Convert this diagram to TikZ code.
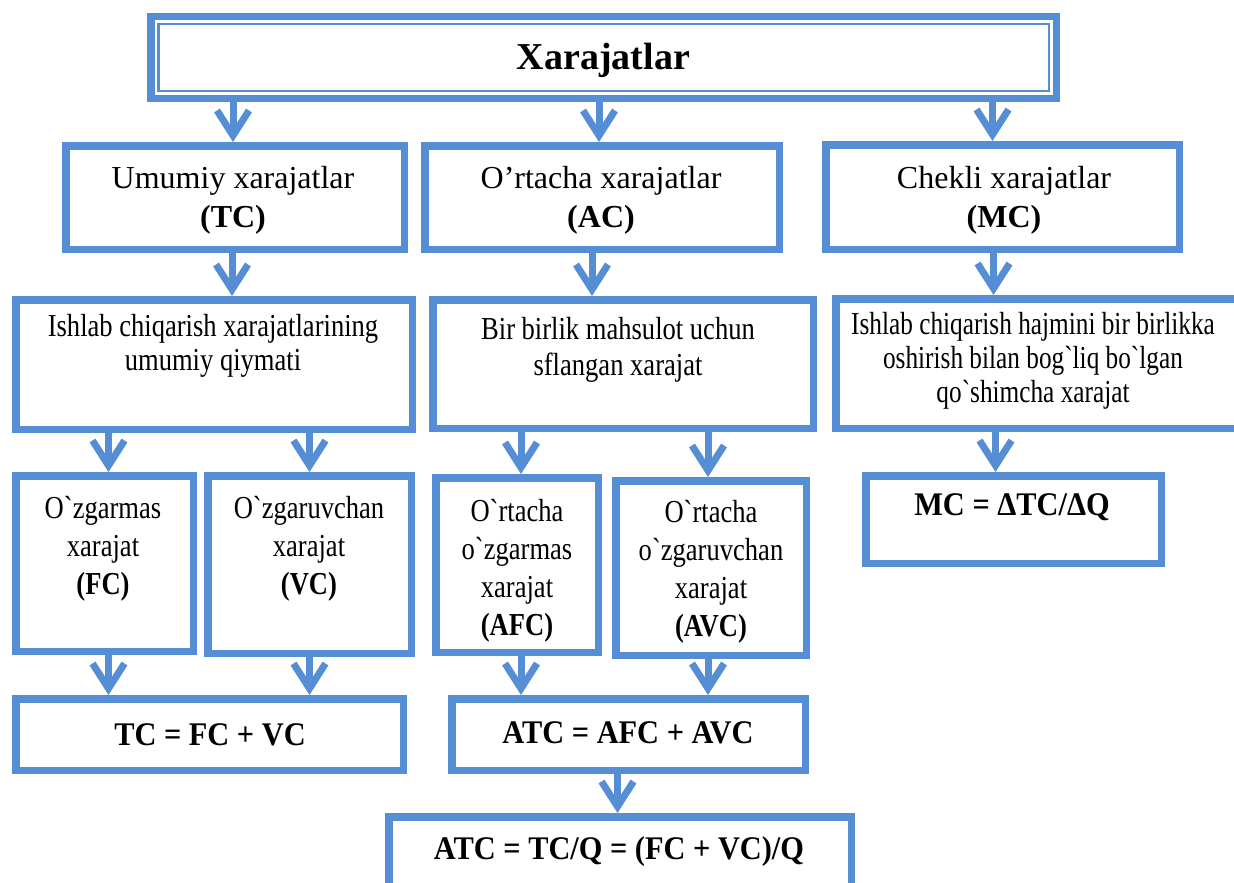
\documentclass[tikz,border=0pt]{standalone}
\usepackage{fontspec}
\setmainfont{Liberation Serif}
\newfontfamily\cnd[FakeStretch=0.83]{Liberation Serif}
\newfontfamily\cndr[FakeStretch=0.79]{Liberation Serif}
\newfontfamily\bcnd[FakeStretch=0.92]{Liberation Serif}
\usetikzlibrary{arrows.meta}
\definecolor{bl}{RGB}{85,142,213}
\newcommand\mkbox[5]{%
  \pgfmathsetmacro\mbw{#4-#2-7.5}\pgfmathsetmacro\mbh{#5-#3-7.5}%
  \pgfmathsetmacro\mbx{(#2+#4)/2}\pgfmathsetmacro\mby{(#3+#5)/2}%
  \node[box, minimum width=\mbw pt, minimum height=\mbh pt] (#1) at (\mbx,\mby) {};}
\begin{document}
\begin{tikzpicture}[x=1pt,y=-1pt,
  box/.style={draw=bl, line width=7.5pt, rectangle, inner sep=0pt},
  arr/.style={draw=bl, line width=7pt, -{Straight Barb[length=25pt,width=32pt,line width=7pt]}},
  ttl/.style={align=center, inner sep=0pt, font=\fontsize{38}{44}\selectfont\bfseries},
  t2/.style={align=center, inner sep=0pt, font=\fontsize{32}{39}\selectfont},
  t3/.style={align=center, inner sep=0pt, font=\cnd\fontsize{32}{34}\selectfont},
  t4/.style={align=center, inner sep=0pt, font=\cnd\fontsize{32}{38}\selectfont},
  tf/.style={align=center, inner sep=0pt, font=\bcnd\fontsize{33}{38}\selectfont\bfseries}]
\useasboundingbox (0,0) rectangle (1234,883);
% boxes
\mkbox{top}{147}{13}{1060}{102}
\draw[bl, line width=2.5pt] ([shift={(11.25pt,-11.25pt)}]top.north west) rectangle ([shift={(-11.25pt,11.25pt)}]top.south east);
\mkbox{umumiy}{62}{142}{408}{253}
\mkbox{ortacha}{421}{142}{783}{253}
\mkbox{chekli}{822}{141}{1183}{253}
\mkbox{ishL}{12}{296}{416}{433}
\mkbox{birlik}{429}{296}{817}{432}
\mkbox{ishR}{832}{295}{1242}{432}
\mkbox{fc}{12}{472}{197}{655}
\mkbox{vc}{204}{472}{415}{657}
\mkbox{afc}{432}{474}{602}{656}
\mkbox{avc}{612}{477}{810}{659}
\mkbox{mc}{862}{472}{1165}{567}
\mkbox{tc}{12}{695}{407}{774}
\mkbox{atc}{448}{695}{809}{774}
\mkbox{atcq}{385}{813}{855}{905}
% texts
\node[ttl] (tXar) at (603.5,60) {Xarajatlar};
\node[t2] (tTC) at (233,200) {Umumiy xarajatlar\\\textbf{(TC)}};
\node[t2] (tAC) at (601,200) {O'rtacha xarajatlar\\\textbf{(AC)}};
\node[t2] (tMC) at (1004,200) {Chekli xarajatlar\\\textbf{(MC)}};
\node[t3] (tIshL) at (213,346) {Ishlab chiqarish xarajatlarining\\umumiy qiymati};
\node[t3, font=\cnd\fontsize{32}{36}\selectfont] (tBir) at (618,350) {Bir birlik mahsulot uchun\\sflangan xarajat};
\node[t3, font=\cndr\fontsize{32}{34}\selectfont] (tIshR) at (1033,361) {Ishlab chiqarish hajmini bir birlikka\\oshirish bilan bog`liq bo`lgan\\qo`shimcha xarajat};
\node[t4] (tFC) at (103,549) {O`zgarmas\\xarajat\\\textbf{(FC)}};
\node[t4] (tVC) at (309,549) {O`zgaruvchan\\xarajat\\\textbf{(VC)}};
\node[t4] (tAFC) at (517,571) {O`rtacha\\o`zgarmas\\xarajat\\\textbf{(AFC)}};
\node[t4] (tAVC) at (711,572) {O`rtacha\\o`zgaruvchan\\xarajat\\\textbf{(AVC)}};
\node[tf] (tMCf) at (1012,507) {MC = ΔTC/ΔQ};
\node[tf] (tTCf) at (210,735) {TC = FC + VC};
\node[tf] (tATC) at (628,733) {ATC = AFC + AVC};
\node[tf] (tATCq) at (619,852) {ATC = TC/Q = (FC + VC)/Q};
% arrows
\draw[arr] ([xshift=-2pt]umumiy.north |- top.south) -- ([xshift=-2pt]umumiy.north);
\draw[arr] ([xshift=-3pt]ortacha.north |- top.south) -- ([xshift=-3pt]ortacha.north);
\draw[arr] ([xshift=-10pt]chekli.north |- top.south) -- ([xshift=-10pt]chekli.north);
\draw[arr] ([xshift=-3pt]umumiy.south) -- ([xshift=-3pt]umumiy.south |- ishL.north);
\draw[arr] ([xshift=-10pt]ortacha.south) -- ([xshift=-10pt]ortacha.south |- birlik.north);
\draw[arr] ([xshift=-9pt]chekli.south) -- ([xshift=-9pt]chekli.south |- ishR.north);
\draw[arr] ([xshift=4pt]fc.north |- ishL.south) -- ([xshift=4pt]fc.north);
\draw[arr] (vc.north |- ishL.south) -- (vc.north);
\draw[arr] ([xshift=4pt]afc.north |- birlik.south) -- ([xshift=4pt]afc.north);
\draw[arr] ([xshift=-3pt]avc.north |- birlik.south) -- ([xshift=-3pt]avc.north);
\draw[arr] ([xshift=-18pt]mc.north |- ishR.south) -- ([xshift=-18pt]mc.north);
\draw[arr] ([xshift=4pt]fc.south) -- ([xshift=4pt]fc.south |- tc.north);
\draw[arr] (vc.south) -- (vc.south |- tc.north);
\draw[arr] ([xshift=4pt]afc.south) -- ([xshift=4pt]afc.south |- atc.north);
\draw[arr] ([xshift=-3pt]avc.south) -- ([xshift=-3pt]avc.south |- atc.north);
\draw[arr] ([xshift=-11pt]atc.south) -- ([xshift=-11pt]atc.south |- atcq.north);
\end{tikzpicture}
\end{document}
